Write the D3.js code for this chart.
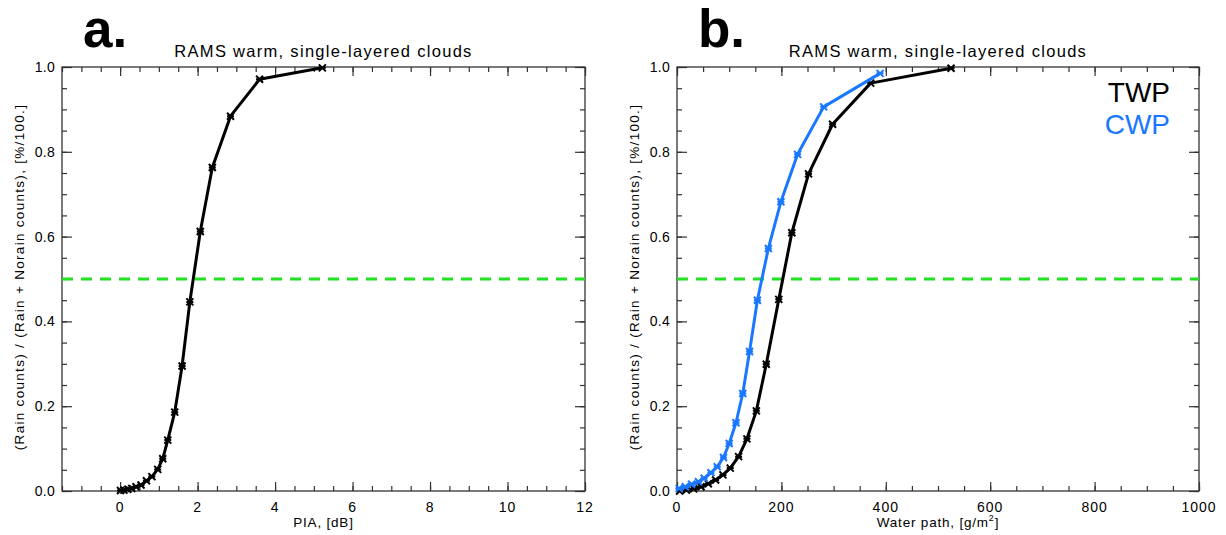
<!DOCTYPE html>
<html>
<head>
<meta charset="utf-8">
<script src="https://cdn.jsdelivr.net/npm/d3@7"></script>
<style>
body { margin: 0; background: #fff; }
svg text { font-family: "Liberation Sans", Arial, sans-serif; }
</style>
</head>
<body>
<div id="chart"></div>
<script>
// panel a: PIA
var piaX = [0.01, 0.1, 0.2, 0.3, 0.41, 0.54, 0.68, 0.82, 0.97, 1.1, 1.23, 1.41, 1.6, 1.8, 2.07, 2.38, 2.85, 3.6, 5.22];
var piaY = [0.001, 0.002, 0.004, 0.006, 0.010, 0.014, 0.024, 0.034, 0.051, 0.076, 0.12, 0.186, 0.295, 0.446, 0.612, 0.763, 0.884, 0.971, 0.998];

// panel b: water path
var twpX = [5, 18, 32, 46, 60, 74, 88, 102, 118, 134, 152, 171, 195, 220, 252, 298, 371, 525];
var twpY = [0.0, 0.002, 0.005, 0.010, 0.017, 0.026, 0.038, 0.054, 0.081, 0.123, 0.189, 0.299, 0.452, 0.609, 0.748, 0.865, 0.962, 0.997];
var cwpX = [4, 16, 28, 41, 52, 65, 77, 89, 100, 113, 126, 139, 154, 175, 199, 231, 281, 389];
var cwpY = [0.006, 0.010, 0.016, 0.022, 0.030, 0.043, 0.057, 0.079, 0.112, 0.161, 0.23, 0.329, 0.45, 0.572, 0.682, 0.794, 0.906, 0.985];

var panelLetters = ["a.", "b."];
var titleText = "RAMS warm, single-layered clouds";
var yLabel = "(Rain counts) / (Rain + Norain counts), [%/100.]";
var yTicks = [0, 0.2, 0.4, 0.6, 0.8, 1.0];
var xTicksA = [0, 2, 4, 6, 8, 10, 12];
var xTicksB = [0, 200, 400, 600, 800, 1000];
var legendNames = ["TWP", "CWP"];
var threshold = 0.5;

var W = 1226, H = 535;
var svg = d3.select("#chart").append("svg").attr("width", W).attr("height", H);

function drawPanel(cfg) {
    var g = svg.append("g");
    var x = d3.scaleLinear().domain(cfg.xDomain).range([cfg.left, cfg.right]);
    var y = d3.scaleLinear().domain([0, 1]).range([491, 67]);
    var axisColor = "#333";

    // minor + major ticks on all four sides
    var yMinor = d3.range(0, 1.0001, 0.05);
    var xMinor = d3.range(cfg.xDomain[0], cfg.xDomain[1] + 1e-6, cfg.xMinorStep);

    g.append("g").attr("transform", "translate(" + cfg.left + ",0)")
        .call(d3.axisRight(y).tickValues(yMinor).tickSize(5).tickFormat(""));
    g.append("g").attr("transform", "translate(" + cfg.right + ",0)")
        .call(d3.axisLeft(y).tickValues(yMinor).tickSize(5).tickFormat(""));
    g.append("g").attr("transform", "translate(" + cfg.left + ",0)")
        .call(d3.axisRight(y).tickValues(yTicks).tickSize(10).tickFormat(""));
    g.append("g").attr("transform", "translate(" + cfg.right + ",0)")
        .call(d3.axisLeft(y).tickValues(yTicks).tickSize(10).tickFormat(""));

    g.append("g").attr("transform", "translate(0,491)")
        .call(d3.axisTop(x).tickValues(xMinor).tickSize(5).tickFormat(""));
    g.append("g").attr("transform", "translate(0,67)")
        .call(d3.axisBottom(x).tickValues(xMinor).tickSize(5).tickFormat(""));
    g.append("g").attr("transform", "translate(0,491)")
        .call(d3.axisTop(x).tickValues(cfg.xTicks).tickSize(9).tickFormat(""));
    g.append("g").attr("transform", "translate(0,67)")
        .call(d3.axisBottom(x).tickValues(cfg.xTicks).tickSize(9).tickFormat(""));

    g.selectAll(".domain").remove();
    g.selectAll(".tick line").attr("stroke", axisColor).attr("stroke-width", 1.2);

    g.append("rect")
        .attr("x", cfg.left).attr("y", 67)
        .attr("width", cfg.right - cfg.left).attr("height", 424)
        .attr("fill", "none").attr("stroke", axisColor).attr("stroke-width", 1.3);

    // tick labels
    g.selectAll(".ylab").data(yTicks).enter().append("text")
        .attr("x", cfg.left - 7).attr("y", function(d) { return y(d) + 5; })
        .attr("text-anchor", "end").attr("font-size", 14).attr("letter-spacing", 0.3)
        .text(function(d) { return d.toFixed(1); });
    g.selectAll(".xlab").data(cfg.xTicks).enter().append("text")
        .attr("x", function(d) { return x(d); }).attr("y", 512)
        .attr("text-anchor", "middle").attr("font-size", 14).attr("letter-spacing", 1)
        .text(function(d) { return d; });

    // axis titles
    var xt = g.append("text")
        .attr("x", (cfg.left + cfg.right) / 2).attr("y", 527)
        .attr("text-anchor", "middle").attr("font-size", 13.5).attr("letter-spacing", 0.8);
    xt.append("tspan").text(cfg.xLabel);
    if (cfg.xSup) {
        xt.append("tspan").attr("font-size", 9).attr("dy", -6).text(cfg.xSup);
        xt.append("tspan").attr("dy", 6).text("]");
    }
    g.append("text")
        .attr("transform", "translate(" + (cfg.left - 38) + ",277) rotate(-90)")
        .attr("text-anchor", "middle").attr("font-size", 13.5).attr("letter-spacing", 1.3)
        .text(yLabel);

    g.append("text")
        .attr("x", (cfg.left + cfg.right) / 2).attr("y", 57)
        .attr("text-anchor", "middle").attr("font-size", 16.5).attr("letter-spacing", 1.3)
        .text(titleText);

    g.append("text")
        .attr("x", cfg.left + 21).attr("y", 47)
        .attr("font-size", 53).attr("font-weight", "bold")
        .text(cfg.letter);

    // 50% threshold
    g.append("line")
        .attr("x1", cfg.left).attr("x2", cfg.right)
        .attr("y1", y(threshold)).attr("y2", y(threshold))
        .attr("stroke", "#22e022").attr("stroke-width", 3)
        .attr("stroke-dasharray", "11,8");

    var line = d3.line()
        .x(function(d) { return x(d[0]); })
        .y(function(d) { return y(d[1]); });

    cfg.series.forEach(function(s) {
        var pts = s.xs.map(function(v, i) { return [v, s.ys[i]]; });
        g.append("path").datum(pts)
            .attr("d", line)
            .attr("fill", "none").attr("stroke", s.color).attr("stroke-width", 3)
            .attr("stroke-linejoin", "round");
        // asterisk markers
        var r = 3.5;
        g.selectAll(null).data(pts).enter().append("path")
            .attr("transform", function(d) { return "translate(" + x(d[0]) + "," + y(d[1]) + ")"; })
            .attr("d", "M" + -r + "," + -r + "L" + r + "," + r + "M" + -r + "," + r + "L" + r + "," + -r + "M" + -r + ",0L" + r + ",0")
            .attr("stroke", s.color).attr("stroke-width", 2).attr("fill", "none");
    });

    if (cfg.legend) {
        cfg.series.forEach(function(s, i) {
            g.append("text")
                .attr("x", cfg.right - 29).attr("y", 102 + i * 32)
                .attr("text-anchor", "end").attr("font-size", 28)
                .attr("fill", s.color)
                .text(legendNames[i]);
        });
    }
}

drawPanel({
    letter: panelLetters[0], left: 62, right: 585,
    xDomain: [-1.5, 12], xTicks: xTicksA, xMinorStep: 0.5,
    xLabel: "PIA, [dB]",
    series: [{ xs: piaX, ys: piaY, color: "#000" }]
});

drawPanel({
    letter: panelLetters[1], left: 677, right: 1199,
    xDomain: [0, 1000], xTicks: xTicksB, xMinorStep: 50,
    xLabel: "Water path, [g/m", xSup: "2",
    legend: true,
    series: [{ xs: twpX, ys: twpY, color: "#000" }, { xs: cwpX, ys: cwpY, color: "#1a78ff" }]
});
</script>
</body>
</html>
